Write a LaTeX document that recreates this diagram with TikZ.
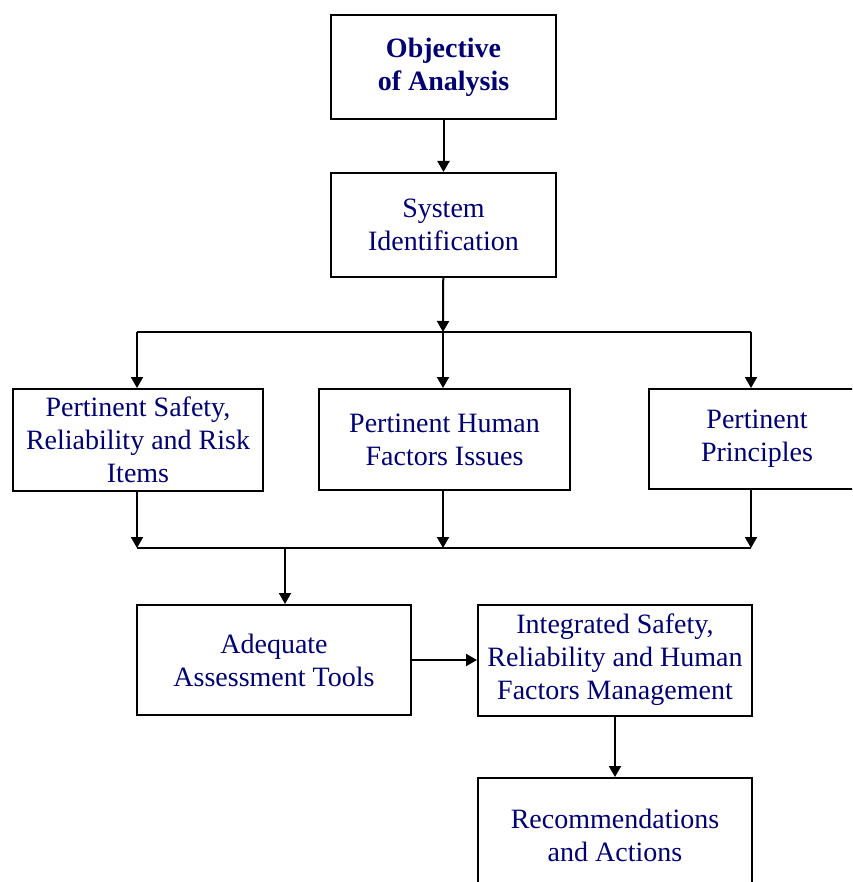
\documentclass[tikz,border=0pt]{standalone}
\usepackage{fontspec}
\setmainfont{Liberation Serif}
\usepackage{xcolor}
\usepackage{tikz}
\usetikzlibrary{arrows.meta,positioning,calc}
\definecolor{FlowNavy}{HTML}{000070}

\begin{document}
\begin{tikzpicture}[x=0.5pt,y=-0.5pt,
  box/.style={draw=black,line width=1pt,fill=white,align=center,inner sep=0pt,
              font=\fontsize{14}{16.5}\selectfont,text=FlowNavy},
  arr/.style={-{Triangle[length=5.5pt,width=6pt]},line width=1pt},
  bus/.style={line width=1pt}
]
  \useasboundingbox (0,0) rectangle (852,882);
  \clip (0,0) rectangle (852,882);

  % Top chain
  \node[box,minimum width=112.5pt,minimum height=52pt,font=\fontsize{14}{16.5}\selectfont\bfseries]
    (obj) at (443.5,67) {Objective\\of Analysis};
  \node[box,minimum width=112.5pt,minimum height=52pt] (sysid) at (443.5,225) {System\\Identification};

  % Pertinent items
  \node[box,minimum width=125pt,minimum height=51pt] (safety) at (138,440)
    {Pertinent Safety,\\Reliability and Risk\\Items};
  \node[box,minimum width=125.5pt,minimum height=50.5pt] (human) at (444.5,439.5)
    {Pertinent Human\\Factors Issues};
  \node[box,minimum width=108pt,minimum height=50pt] (princ) at (757,439)
    {Pertinent\\Principles};

  % Lower part
  \node[box,minimum width=137pt,minimum height=55pt] (tools) at (274,660)
    {Adequate\\Assessment Tools};
  \node[box,minimum width=137pt,minimum height=55.5pt] (integ) at (615,660)
    {Integrated Safety,\\Reliability and Human\\Factors Management};
  \node[box,minimum width=137pt,minimum height=57pt] (recom) at (615,835)
    {Recommendations\\and Actions};

  % Junctions
  \coordinate (tm) at (443,332);
  \coordinate (tl) at (137,332);
  \coordinate (tr) at (751,332);
  \coordinate (bl) at (137,548);
  \coordinate (bm) at (285,548);
  \coordinate (br) at (751,548);

  % Arrows
  \draw[arr] (obj) -- (sysid);
  \draw[bus] (tl) -- (tr);
  \draw[arr] (sysid) -- (tm);
  \draw[arr] (tm) -- (tm |- human.north);
  \draw[arr] (tl) -- (tl |- safety.north);
  \draw[arr] (tr) -- (tr |- princ.north);
  \draw[bus] (bl) -- (br);
  \draw[arr] (bl |- safety.south) -- (bl);
  \draw[arr] (human.south -| tm) -- (tm |- bl);
  \draw[arr] (br |- princ.south) -- (br);
  \draw[arr] (bm) -- (bm |- tools.north);
  \draw[arr] (tools) -- (integ);
  \draw[arr] (integ) -- (recom);
\end{tikzpicture}
\end{document}
